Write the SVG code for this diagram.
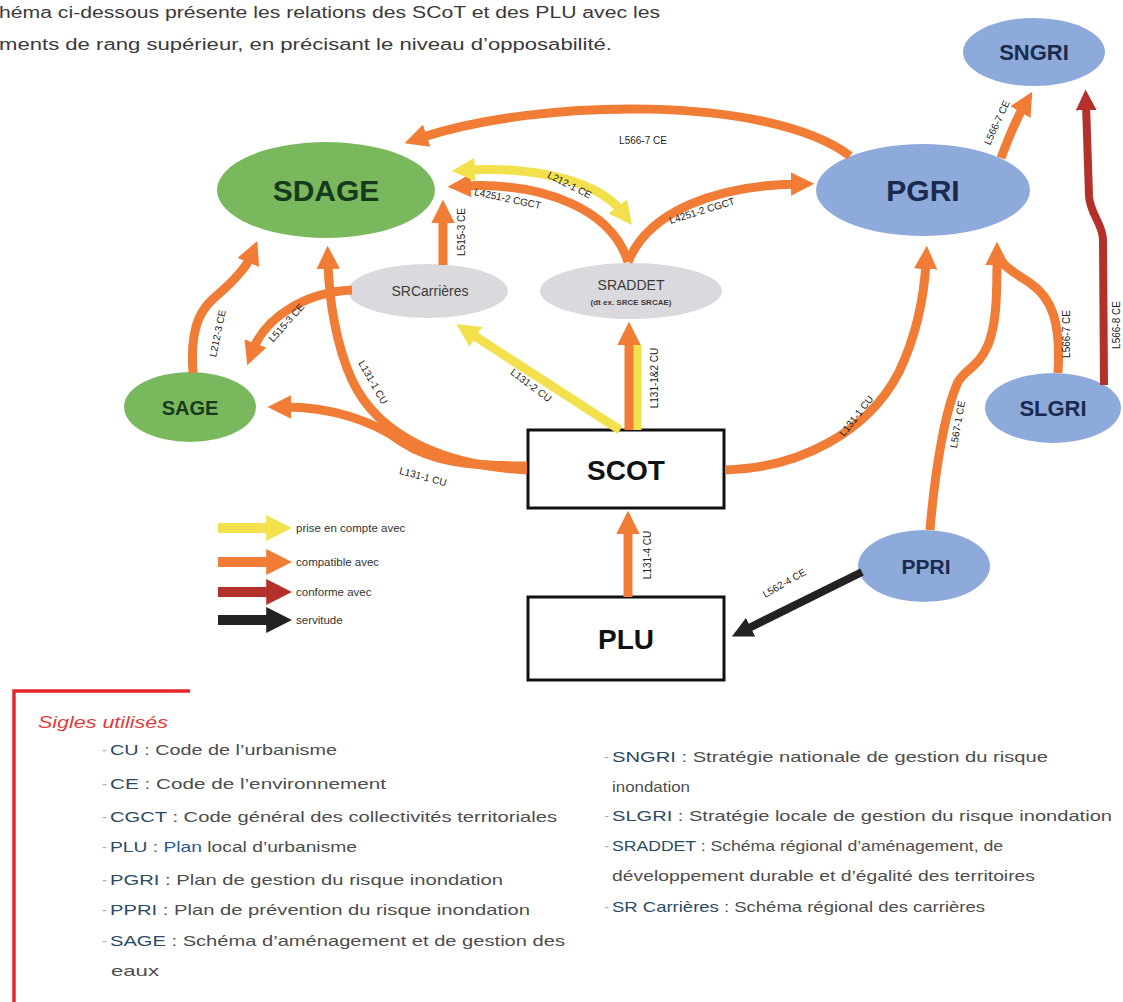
<svg xmlns="http://www.w3.org/2000/svg" width="1123" height="1002" viewBox="0 0 1123 1002">
<style>
text{font-family:"Liberation Sans",Arial,sans-serif}
.intro{font-size:16px;fill:#3a3a3a}
.nt{font-weight:bold;text-anchor:middle}
.green{fill:#7ab85e}
.blue{fill:#8eaadb}
.gray{fill:#dadade}
.gtxt{fill:#173a1c}
.btxt{fill:#1b2b4d}
.box{fill:#fff;stroke:#111;stroke-width:3}
.c{fill:none;stroke-linecap:butt}
.o{stroke:#f07c35;stroke-width:9}
.y{stroke:#f2e14c;stroke-width:9}
.r{stroke:#b3302b;stroke-width:8}
.k{stroke:#222;stroke-width:8}
.lbl{font-size:10px;fill:#222;text-anchor:middle}
.leg{font-size:11.5px;fill:#333}
.li{font-size:15px;fill:#4d4d4d}
.ac{fill:#2c4a63}
.dash{fill:#b0b0b0}
</style>
<defs>
<marker id="ao" viewBox="0 0 10 10" refX="3" refY="5" markerWidth="2.6" markerHeight="2.6" orient="auto-start-reverse"><path d="M0,0 L10,5 L0,10 z" fill="#f07c35"/></marker>
<marker id="ay" viewBox="0 0 10 10" refX="3" refY="5" markerWidth="2.6" markerHeight="2.6" orient="auto-start-reverse"><path d="M0,0 L10,5 L0,10 z" fill="#f2e14c"/></marker>
<marker id="ar" viewBox="0 0 10 10" refX="3" refY="5" markerWidth="2.6" markerHeight="2.6" orient="auto-start-reverse"><path d="M0,0 L10,5 L0,10 z" fill="#b3302b"/></marker>
<marker id="ak" viewBox="0 0 10 10" refX="3" refY="5" markerWidth="2.6" markerHeight="2.6" orient="auto-start-reverse"><path d="M0,0 L10,5 L0,10 z" fill="#222"/></marker>
</defs>
<rect width="1123" height="1002" fill="#fff"/>

<g id="intro">
<text class="intro" x="-1" y="18" textLength="661" lengthAdjust="spacingAndGlyphs">héma ci-dessous présente les relations des SCoT et des PLU avec les</text>
<text class="intro" x="-1" y="50" textLength="613" lengthAdjust="spacingAndGlyphs">ments de rang supérieur, en précisant le niveau d’opposabilité.</text>
</g>

<g id="n-sdage"><ellipse class="green" cx="326" cy="190" rx="109" ry="48"/><text class="nt gtxt" x="326" y="201" font-size="30">SDAGE</text></g>
<g id="n-pgri"><ellipse class="blue" cx="923" cy="190" rx="107" ry="46"/><text class="nt btxt" x="923" y="201" font-size="30">PGRI</text></g>
<g id="n-sngri"><ellipse class="blue" cx="1034" cy="52" rx="71" ry="34"/><text class="nt btxt" x="1034" y="60" font-size="22">SNGRI</text></g>
<g id="n-slgri"><ellipse class="blue" cx="1053" cy="408" rx="68" ry="35"/><text class="nt btxt" x="1053" y="416" font-size="22">SLGRI</text></g>
<g id="n-sage"><ellipse class="green" cx="190" cy="407" rx="66" ry="35"/><text class="nt gtxt" x="190" y="415" font-size="20">SAGE</text></g>
<g id="n-srcarrieres"><ellipse class="gray" cx="428" cy="291" rx="80" ry="27"/><text x="430" y="296" font-size="14" fill="#3a3a3a" text-anchor="middle">SRCarrières</text></g>
<g id="n-sraddet"><ellipse class="gray" cx="631" cy="291" rx="91" ry="28"/><text x="631" y="290" font-size="14" fill="#3a3a3a" text-anchor="middle">SRADDET</text><text x="631" y="305" font-size="8" font-weight="bold" fill="#3a3a3a" text-anchor="middle">(dt ex. SRCE SRCAE)</text></g>
<g id="n-scot"><rect class="box" x="528" y="430" width="196" height="78"/><text class="nt" x="626" y="480" font-size="28" fill="#111">SCOT</text></g>
<g id="n-plu"><rect class="box" x="528" y="597" width="196" height="83"/><text class="nt" x="626" y="649" font-size="28" fill="#111">PLU</text></g>
<g id="n-ppri"><ellipse class="blue" cx="924" cy="566" rx="66" ry="36"/><text class="nt btxt" x="926" y="574" font-size="21">PPRI</text></g>

<g id="connectors">
<g id="e-pgri-sdage"><path class="c o" d="M850,156 C770,95 540,98 420,138" marker-end="url(#ao)"/><text class="lbl" x="643" y="144">L566-7 CE</text></g>
<g id="e-sraddet-sdage"><path class="c o" d="M628,262 C612,210 545,182 464,186" marker-end="url(#ao)"/><text class="lbl" transform="translate(507,202) rotate(12)">L4251-2 CGCT</text></g>
<g id="e-sdage-sraddet"><path class="c y" d="M468,170 C540,166 600,183 622,212" marker-start="url(#ay)" marker-end="url(#ay)"/><text class="lbl" transform="translate(568,188) rotate(27)">L212-1 CE</text></g>
<g id="e-sraddet-pgri"><path class="c o" d="M628,262 C648,212 715,185 798,184" marker-end="url(#ao)"/><text class="lbl" transform="translate(703,214) rotate(-17)">L4251-2 CGCT</text></g>
<g id="e-src-sdage"><path class="c o" d="M443,265 L443,216" marker-end="url(#ao)"/><text class="lbl" transform="translate(465,232) rotate(-90)">L515-3 CE</text></g>
<g id="e-src-sage"><path class="c o" d="M352,290 C305,292 265,318 253,350" marker-end="url(#ao)"/><text class="lbl" transform="translate(289,325) rotate(-48)">L515-3 CE</text></g>
<g id="e-sage-sdage"><path class="c o" d="M193,373 C190,332 198,312 214,298 C234,281 246,268 251,256" marker-end="url(#ao)"/><text class="lbl" transform="translate(221,334) rotate(-78)">L212-3 CE</text></g>
<g id="e-scot-sdage"><path class="c o" d="M527,470 C450,466 380,440 352,380 C336,345 329,300 328,262" marker-end="url(#ao)"/><text class="lbl" transform="translate(370,384) rotate(60)">L131-1 CU</text></g>
<g id="e-scot-sage"><path class="c o" d="M527,466 C470,466 432,462 402,442 C372,420 330,407 284,407" marker-end="url(#ao)"/><text class="lbl" transform="translate(422,480) rotate(15)">L131-1 CU</text></g>
<g id="e-scot-src"><path class="c y" d="M620,430 L470,333" marker-end="url(#ay)"/><text class="lbl" transform="translate(529,388) rotate(37)">L131-2 CU</text></g>
<g id="e-scot-sraddet"><path class="c y" d="M637,430 L637,345"/><path class="c o" d="M629,430 L629,338" marker-end="url(#ao)"/><text class="lbl" transform="translate(658,378) rotate(-90)">L131-1&amp;2 CU</text></g>
<g id="e-scot-pgri"><path class="c o" d="M725,470 C800,468 868,432 899,372 C915,338 924,300 926,262" marker-end="url(#ao)"/><text class="lbl" transform="translate(859,418) rotate(-52)">L131-1 CU</text></g>
<g id="e-plu-scot"><path class="c o" d="M628,597 L628,527" marker-end="url(#ao)"/><text class="lbl" transform="translate(651,555) rotate(-90)">L131-4 CU</text></g>
<g id="e-ppri-plu"><path class="c k" d="M862,572 L745,630" marker-end="url(#ak)"/><text class="lbl" transform="translate(786,586) rotate(-30)">L562-4 CE</text></g>
<g id="e-ppri-pgri"><path class="c o" d="M930,530 C935,470 945,410 958,382 C966,368 978,368 988,345 C996,325 997,300 997,258" marker-end="url(#ao)"/><text class="lbl" transform="translate(961,425) rotate(-80)">L567-1 CE</text></g>
<g id="e-slgri-pgri"><path class="c o" d="M1058,373 C1061,322 1052,298 1030,283 C1012,271 1000,265 997,252"/><text class="lbl" transform="translate(1070,334) rotate(-90)">L566-7 CE</text></g>
<g id="e-pgri-sngri"><path class="c o" d="M1001,158 C1010,134 1017,118 1024,106" marker-end="url(#ao)"/><text class="lbl" transform="translate(1000,124) rotate(-65)">L566-7 CE</text></g>
<g id="e-slgri-sngri"><path class="c r" d="M1104,385 L1103,240 C1103,224 1090,214 1089,196 L1086,104" marker-end="url(#ar)"/><text class="lbl" transform="translate(1120,325) rotate(-90)">L566-8 CE</text></g>
</g>

<g id="legend">
<path class="c y" style="stroke-width:10" d="M218,528 L274,528" marker-end="url(#ay)"/>
<path class="c o" style="stroke-width:10" d="M218,562 L274,562" marker-end="url(#ao)"/>
<path class="c r" style="stroke-width:10" d="M218,592 L274,592" marker-end="url(#ar)"/>
<path class="c k" style="stroke-width:10" d="M218,620 L274,620" marker-end="url(#ak)"/>
<text class="leg" x="296" y="532">prise en compte avec</text>
<text class="leg" x="296" y="566">compatible avec</text>
<text class="leg" x="296" y="596">conforme avec</text>
<text class="leg" x="296" y="624">servitude</text>
</g>

<g id="glossary">
<path d="M14,1002 L14,691 L190,691" fill="none" stroke="#e5282c" stroke-width="3.5"/>
<text x="38" y="728" font-size="17" font-style="italic" fill="#e23a3c" textLength="130" lengthAdjust="spacingAndGlyphs">Sigles utilisés</text>
<g class="li">
<text class="dash" x="102" y="755">-</text><text x="110" y="755" textLength="227" lengthAdjust="spacingAndGlyphs"><tspan class="ac">CU</tspan> : Code de l’urbanisme</text>
<text class="dash" x="102" y="789">-</text><text x="110" y="789" textLength="276" lengthAdjust="spacingAndGlyphs"><tspan class="ac">CE</tspan> : Code de l’environnement</text>
<text class="dash" x="102" y="822">-</text><text x="110" y="822" textLength="447" lengthAdjust="spacingAndGlyphs"><tspan class="ac">CGCT</tspan> : Code général des collectivités territoriales</text>
<text class="dash" x="102" y="852">-</text><text x="110" y="852" textLength="247" lengthAdjust="spacingAndGlyphs"><tspan class="ac">PLU</tspan> : <tspan fill="#2a5a9a">Plan</tspan> local d’urbanisme</text>
<text class="dash" x="102" y="885">-</text><text x="110" y="885" textLength="393" lengthAdjust="spacingAndGlyphs"><tspan class="ac">PGRI</tspan> : Plan de gestion du risque inondation</text>
<text class="dash" x="102" y="915">-</text><text x="110" y="915" textLength="420" lengthAdjust="spacingAndGlyphs"><tspan class="ac">PPRI</tspan> : Plan de prévention du risque inondation</text>
<text class="dash" x="102" y="946">-</text><text x="110" y="946" textLength="455" lengthAdjust="spacingAndGlyphs"><tspan class="ac">SAGE</tspan> : Schéma d’aménagement et de gestion des</text>
<text x="111" y="976" textLength="48" lengthAdjust="spacingAndGlyphs">eaux</text>
<text class="dash" x="604" y="762">-</text><text x="612" y="762" textLength="436" lengthAdjust="spacingAndGlyphs"><tspan class="ac">SNGRI</tspan> : Stratégie nationale de gestion du risque</text>
<text x="612" y="792" textLength="78" lengthAdjust="spacingAndGlyphs">inondation</text>
<text class="dash" x="604" y="821">-</text><text x="612" y="821" textLength="500" lengthAdjust="spacingAndGlyphs"><tspan class="ac">SLGRI</tspan> : Stratégie locale de gestion du risque inondation</text>
<text class="dash" x="604" y="851">-</text><text x="612" y="851" textLength="391" lengthAdjust="spacingAndGlyphs"><tspan class="ac">SRADDET</tspan> : Schéma régional d’aménagement, de</text>
<text x="612" y="881" textLength="423" lengthAdjust="spacingAndGlyphs">développement durable et d’égalité des territoires</text>
<text class="dash" x="604" y="912">-</text><text x="612" y="912" textLength="373" lengthAdjust="spacingAndGlyphs"><tspan class="ac">SR Carrières</tspan> : Schéma régional des carrières</text>
</g>
</g>
</svg>
